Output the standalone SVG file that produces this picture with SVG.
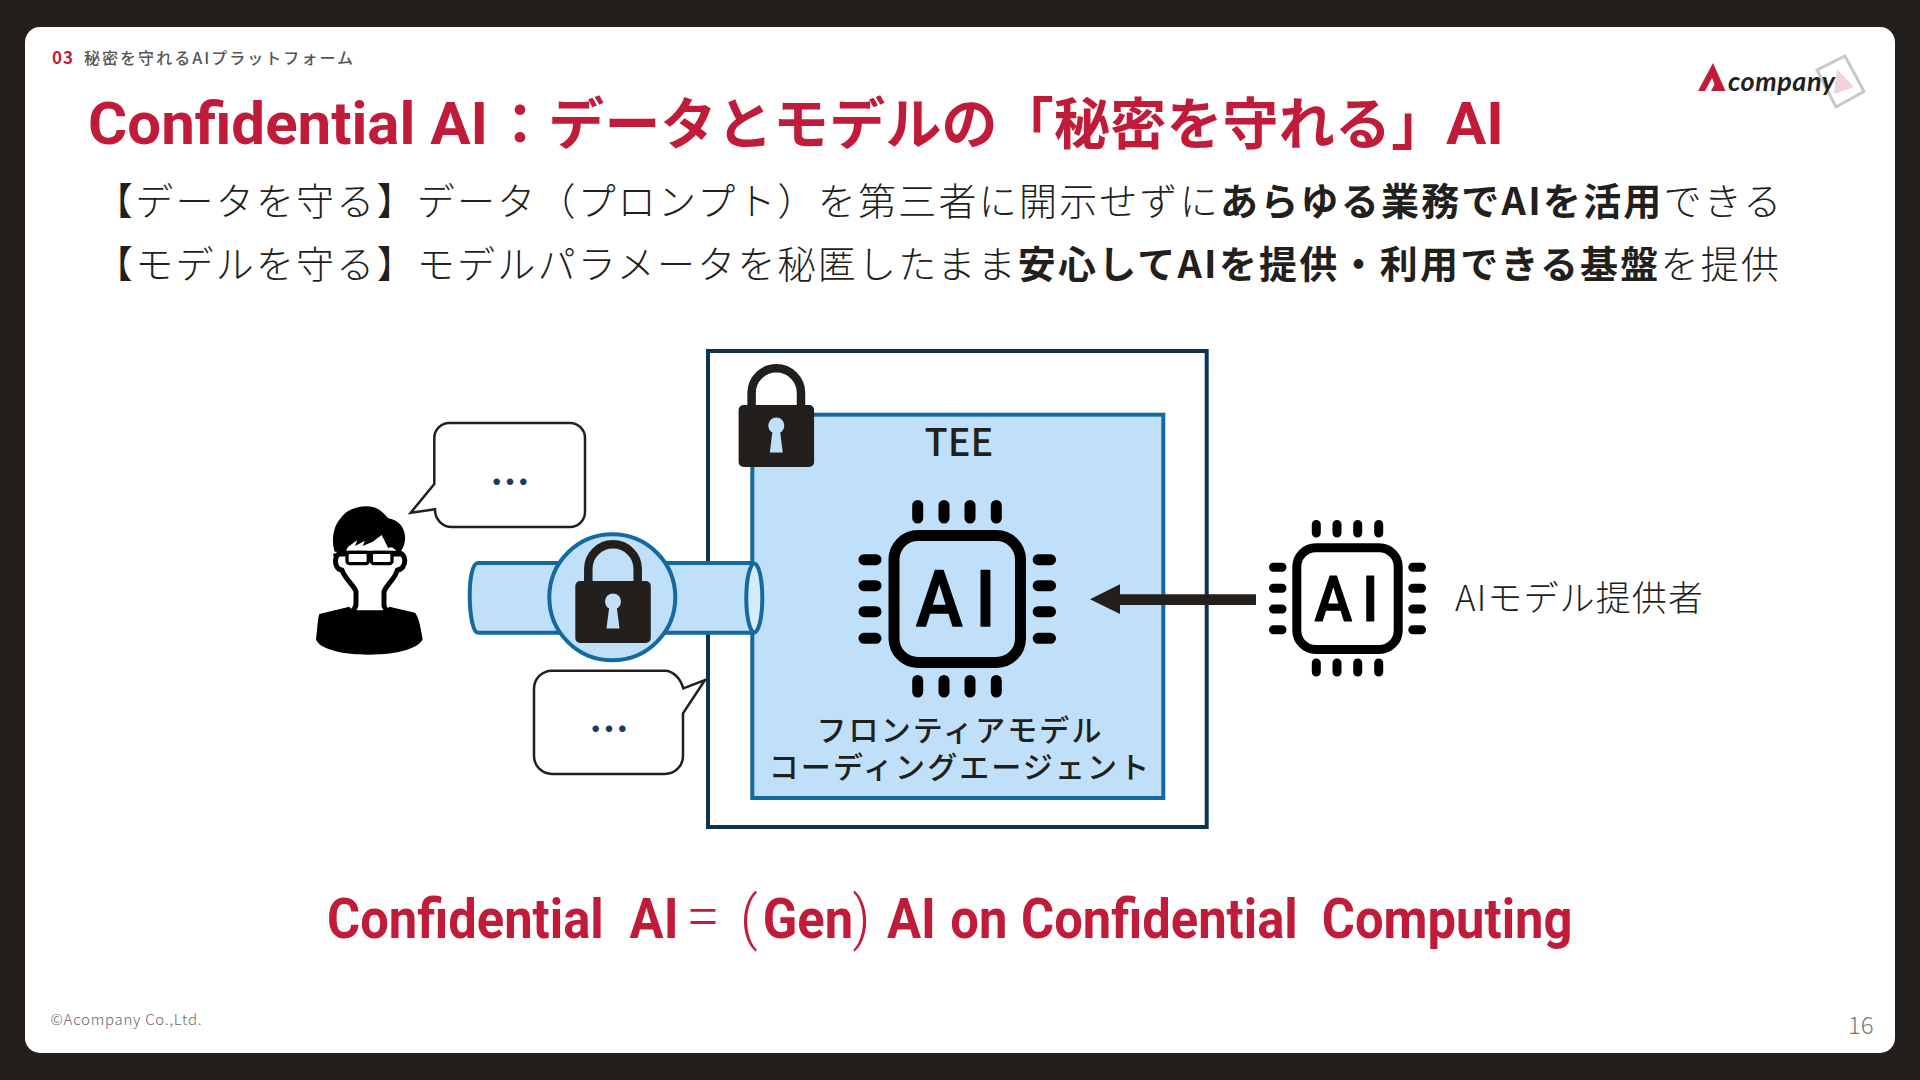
<svg xmlns="http://www.w3.org/2000/svg" xmlns:xlink="http://www.w3.org/1999/xlink" width="1920" height="1080" viewBox="0 0 1920 1080">
<style>
text{font-family:"Noto Sans CJK JP","Noto Sans",sans-serif}
.red{fill:#c11b3a;font-weight:700}
.lat{font-family:Roboto,"Noto Sans",sans-serif}
.body{font-size:38px;font-weight:300;fill:#231f1c;letter-spacing:2.22px}
.b{font-weight:700}
.blue{fill:#bfe0f8;stroke:#146a9e;stroke-width:4}
.ink{fill:#231f1c}
.pin{stroke:#000;stroke-linecap:round;fill:none}
.bub{fill:#fff;stroke:#231f1c;stroke-width:2.5;stroke-linejoin:miter}
.dots{font-size:40px;fill:#1b3a5f;font-weight:700;text-anchor:middle}
.ai{font-family:Roboto,"Liberation Sans",sans-serif;font-weight:500;fill:#000;stroke:#000;stroke-linejoin:round}
.lbl{font-size:30px;font-weight:500;fill:#231f1c;text-anchor:middle;letter-spacing:2.1px}
</style>
<defs>
<g id="padlock">
<path d="M-24.7 4V-12a24.7 24.7 0 0 1 49.4 0V4" fill="none" stroke="#231f1c" stroke-width="8.500"/>
<rect x="-37.7" y="0" width="75.5" height="62" rx="5" fill="#231f1c"/>
<circle cx="0" cy="20.5" r="8" fill="#bfe0f8"/>
<path d="M-3.5 24L-6.5 47.5H6.5L3.5 24Z" fill="#bfe0f8"/>
</g>
</defs>
<rect width="1920" height="1080" fill="#231f1c"/>
<rect x="25" y="27" width="1870" height="1026" rx="15" fill="#fff"/>

<g id="header">
<text x="52" y="63.5" font-size="17" font-weight="700" fill="#c11b3a" letter-spacing="1">03</text>
<text x="84" y="63.5" font-size="16" font-weight="500" fill="#555" textLength="269">秘密を守れるAIプラットフォーム</text>
<text class="red" y="144" font-size="56"><tspan class="lat" x="88" font-size="60">Confidential AI</tspan><tspan x="492" letter-spacing=".2">：データとモデルの「秘密を守れる」</tspan><tspan class="lat" x="1446" font-size="60">AI</tspan></text>
<text class="body" x="95" y="215">【データを守る】データ（プロンプト）を第三者に開示せずに<tspan class="b">あらゆる業務でAIを活用</tspan>できる</text>
<text class="body" x="95" y="278">【モデルを守る】モデルパラメータを秘匿したまま<tspan class="b">安心してAIを提供・利用できる基盤</tspan>を提供</text>
</g>

<g id="logo">
<path d="M1713 63L1725.500 91H1711L1714.500 84.500L1712 78L1705 91H1698Z" fill="#c11b3a"/>
<path d="M1817 70L1845 56L1864 91.500L1836 107Z" fill="none" stroke="#c8c8c8" stroke-width="3"/>
<path d="M1837 69L1854 87L1834 94Z" fill="#f3d3da"/>
<text x="1728" y="91" font-size="27" font-weight="700" font-style="italic" fill="#231f1c" style="font-family:Lato,sans-serif" textLength="107">company</text>
</g>

<g id="tee-box">
<rect x="708" y="351" width="498.700" height="476" fill="#fff" stroke="#0d3350" stroke-width="4"/>
<rect class="blue" x="752.300" y="414.700" width="411" height="383.300"/>
<use xlink:href="#padlock" href="#padlock" x="776.300" y="405"/>
<text x="959" y="455.700" font-size="38" font-weight="500" fill="#231f1c" text-anchor="middle">TEE</text>
<text class="lbl" x="960" y="741">フロンティアモデル</text>
<text class="lbl" x="960" y="778">コーディングエージェント</text>
</g>

<g id="ai-chip">
<rect x="894" y="535.500" width="126.500" height="127" rx="24" fill="none" stroke="#000" stroke-width="11"/>
<path class="pin" stroke-width="11" d="M917.700 505.500V518M944 505.500V518M970 505.500V518M996.300 505.500V518M917.700 680.500V692M944 680.500V692M970 680.500V692M996.300 680.500V692M864 559.700H876M864 585.700H876M864 611.700H876M864 638.300H876M1038.200 559.700H1050.500M1038.200 585.700H1050.500M1038.200 611.700H1050.500M1038.200 638.300H1050.500"/>
<text class="ai" transform="translate(916 626) scale(.9 1)" x="0 66" y="0" font-size="78" stroke-width="1.500">AI</text>
</g>

<g id="ai-provider">
<rect x="1296.800" y="547.800" width="101.400" height="101.700" rx="19" fill="none" stroke="#000" stroke-width="9"/>
<path class="pin" stroke-width="9" d="M1316.300 524.500V533M1337 524.500V533M1357.700 524.500V533M1378.700 524.500V533M1316.300 663V672M1337 663V672M1357.700 663V672M1378.700 663V672M1273.500 567.300H1282M1273.500 588.300H1282M1273.500 609H1282M1273.500 629.700H1282M1412.800 567.300H1421.500M1412.800 588.300H1421.500M1412.800 609H1421.500M1412.800 629.700H1421.500"/>
<text class="ai" transform="translate(1314.500 621) scale(.9 1)" x="0 53" y="0" font-size="63" stroke-width="1.200">AI</text>
<text x="1455" y="611" font-size="35" font-weight="300" fill="#231f1c" textLength="248">AIモデル提供者</text>
</g>

<g id="user" transform="translate(300 490) scale(.33333)">
<path d="M132 190C100 180 98 238 126 240C135 268 162 285 168 305V345C165 360 155 365 150 368L265 368C258 360 250 352 252 340V305C262 280 285 268 292 240C322 238 322 182 290 190Z" fill="#fff" stroke="#000" stroke-width="15" stroke-linejoin="round"/>
<path d="M58 372L148 350C165 378 240 385 268 350L345 368C358 385 362 415 368 447C360 472 300 494 205 494C120 494 55 475 48 447C52 420 52 392 58 372Z" fill="#000"/>
<path d="M104 185C92 150 102 105 122 85C140 55 190 42 222 52C245 60 255 75 265 85C300 90 318 120 315 150C313 170 305 180 298 190C285 180 275 165 265 175L245 135L218 155L188 168L195 152L165 168L172 150L143 172L137 187Z" fill="#000"/>
<rect x="141" y="187" width="64" height="34" rx="8" fill="#fff" stroke="#000" stroke-width="10"/>
<rect x="214" y="187" width="62" height="34" rx="8" fill="#fff" stroke="#000" stroke-width="10"/>
<path d="M205 198H214M135 195H100M276 195H312" stroke="#000" stroke-width="9"/>
</g>

<g id="bubble-user">
<path class="bub" d="M434.300 484V438a15 15 0 0 1 15-15H570a15 15 0 0 1 15 15V512a15 15 0 0 1-15 15H452a17 17 0 0 1-17-17.700L410.700 512.700Z"/>
<text class="dots" x="510" y="497">…</text>
</g>
<g id="bubble-ai">
<path class="bub" d="M683.300 688.300C680 677 672 670.700 665 670.700H552a18 18 0 0 0-18 18V756a18 18 0 0 0 18 18H665a18 18 0 0 0 18-18V713.300L705 680Z"/>
<text class="dots" x="609" y="744">…</text>
</g>

<g id="connectors">
<path class="blue" d="M754.300 563H478C466 563 468 632.700 478 632.700H754.300"/>
<ellipse class="blue" cx="754.300" cy="598" rx="8" ry="34.500" style="fill:#d6ebfa"/>
<circle class="blue" cx="612.300" cy="597.300" r="63"/>
<use xlink:href="#padlock" href="#padlock" x="613" y="581"/>
<path class="ink" d="M1256 594.300V605H1120V614L1090 599.300L1120 584.300V594.300Z"/>
</g>

<g id="bottom">
<text class="red lat" transform="translate(327 938) scale(.906 1)" y="0" font-size="56"><tspan x="0">Confidential</tspan> <tspan x="334">AI</tspan> <tspan x="398" font-family="Noto Sans" font-size="60" font-weight="300">=</tspan> <tspan x="456" font-weight="300" font-size="60">(</tspan><tspan x="481">Gen</tspan><tspan x="580" font-weight="300" font-size="60">)</tspan> <tspan x="618">AI</tspan> <tspan x="688">on</tspan> <tspan x="766">Confidential</tspan> <tspan x="1098">Computing</tspan></text>
<text x="50.500" y="1024.500" font-size="15" font-weight="300" fill="#666" textLength="151">©Acompany Co.,Ltd.</text>
<text x="1848" y="1034" font-size="24" font-weight="300" fill="#777">16</text>
</g>
</svg>
